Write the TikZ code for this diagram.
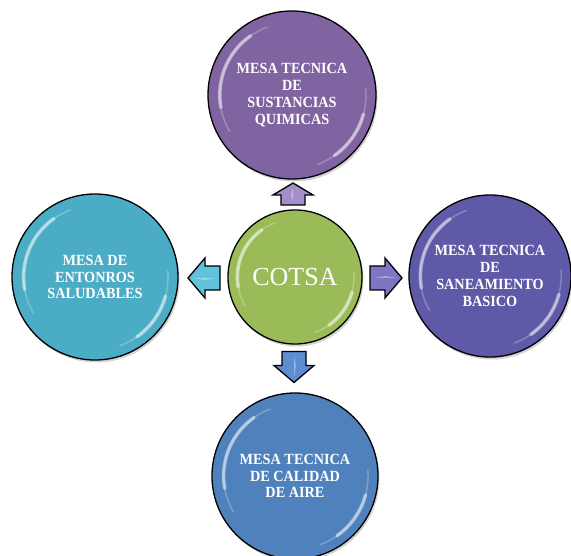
\documentclass[tikz,border=0pt]{standalone}
\usepackage{fontspec}
\setmainfont{Liberation Serif}
\newfontfamily\bubfont[FakeStretch=0.92]{Liberation Serif}
\usetikzlibrary{shadows}
\definecolor{cpurple}{HTML}{8064A2}
\definecolor{cgreen}{HTML}{9BBB59}
\definecolor{ccyan}{HTML}{4BACC6}
\definecolor{cviolet}{HTML}{5F5AA8}
\definecolor{cblue}{HTML}{4F81BD}
\definecolor{apurple}{HTML}{A58FC8}
\definecolor{acyan}{HTML}{5EC3DB}
\definecolor{aviolet}{HTML}{7C76C4}
\definecolor{ablue}{HTML}{5D8DD2}
\tikzset{
  bub/.style={circle, draw=black, line width=1.3pt, minimum size=#1, inner sep=0pt,
    align=center, text=white, font=\bubfont\bfseries\fontsize{15.5}{16.8}\selectfont,
    drop shadow={shadow xshift=1.5pt, shadow yshift=-2.5pt, opacity=0.35}},
  glossa/.style={white, opacity=0.5, line width=3.5pt, line cap=round},
  glossb/.style={white, opacity=0.25, line width=1.5pt, line cap=round},
  barrow/.pic={
    \coordinate (-c) at (0,0);
    \path[draw=black, line width=1.3pt, line join=miter, pic actions]
      (-#1/2,-12) -- ({#1/2-\headlen},-12) -- ({#1/2-\headlen},-20) -- (#1/2,0)
      -- ({#1/2-\headlen},20) -- ({#1/2-\headlen},12) -- (-#1/2,12) -- cycle;
    \fill[white, opacity=0.35] (-#1/2+4,0) -- ({#1/2-\headlen},0) -- (#1/2-5,0) -- ({#1/2-\headlen},2) -- cycle;
  },
}
\newcommand\headlen{17}
\begin{document}
\begin{tikzpicture}[x=1pt,y=1pt]
\useasboundingbox (0,0) rectangle (571,555);
\node[bub=168pt, fill=cpurple] (top) at (292,460) {MESA TECNICA\\DE\\SUSTANCIAS\\QUIMICAS};
\node[bub=166pt, fill=ccyan] (left) at (95,278) {MESA DE\\ENTONROS\\SALUDABLES};
\node[bub=162pt, fill=cviolet] (right) at (490,279) {MESA TECNICA\\DE\\SANEAMIENTO\\BASICO};
\node[bub=166pt, fill=cblue] (bottom) at (295,79) {MESA TECNICA\\DE CALIDAD\\DE AIRE};
\node[bub=134pt, fill=cgreen, font=\fontsize{26}{28}\selectfont] (cotsa) at (295,278) {COTSA};
\foreach \n/\r in {top/84, left/83, right/81, bottom/83, cotsa/67}{
  \draw[glossa] (\n.center) ++(125:{0.86*\r}) arc[start angle=125, end angle=190, radius={0.86*\r}];
  \draw[glossb] (\n.center) ++(110:{0.86*\r}) arc[start angle=110, end angle=210, radius={0.86*\r}];
  \draw[glossa] (\n.center) ++(-15:{0.88*\r}) arc[start angle=-15, end angle=-55, radius={0.88*\r}];
  \draw[glossb] (\n.center) ++(5:{0.88*\r}) arc[start angle=5, end angle=-70, radius={0.88*\r}];
}
\renewcommand\headlen{12}
\pic[fill=apurple, rotate=90] (aup) at (293,361) {barrow=22};
\renewcommand\headlen{17}
\pic[fill=acyan, rotate=180] (aleft) at (204,277) {barrow=32};
\pic[fill=aviolet] (aright) at (386,277) {barrow=32};
\pic[fill=ablue, rotate=270] (adown) at (294,188) {barrow=31};
\end{tikzpicture}
\end{document}
